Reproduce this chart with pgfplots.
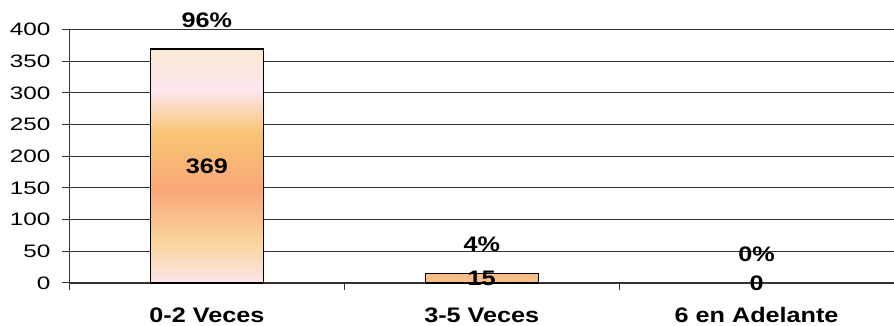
\documentclass[border=0pt]{standalone}
\usepackage{pgfplots}
\pgfplotsset{compat=1.18}
\usepackage{pgfplotstable}
\usepackage{fontspec}
\setmainfont{Liberation Sans}
\newfontfamily\tickfont[FakeStretch=1.35]{Liberation Sans}
\newfontfamily\lblfont[FakeStretch=1.2]{Liberation Sans}

\definecolor{sTop}{HTML}{FBE9D5}
\definecolor{sPink}{HTML}{FCE6EF}
\definecolor{sGold}{HTML}{F8C473}
\definecolor{sOrange}{HTML}{F9A777}
\definecolor{sLgold}{HTML}{F9D59D}
\definecolor{sBot}{HTML}{FBE5EA}
\definecolor{smallBar}{HTML}{F9BD88}

% vertical fill of the bars (path box maps to 25bp..75bp)
\pgfdeclareverticalshading{barfill}{100bp}{%
  color(0bp)=(sBot); color(25bp)=(sBot); color(33.5bp)=(sLgold);
  color(44.85bp)=(sOrange); color(57bp)=(sGold); color(66.3bp)=(sPink);
  color(75bp)=(sTop); color(100bp)=(sTop)}

\pgfplotstableread{
x n pct
0 369 96
1 15 4
2 0 0
}\datos

\begin{document}
\begin{tikzpicture}
\begin{axis}[
  at={(0,0)}, anchor=south west,
  scale only axis,
  width=824.5pt, height=253.5pt,
  xmin=-0.5, xmax=2.5,
  ymin=0, ymax=400,
  ytick={0,50,...,400},
  xtick={-0.5,0.5,1.5},
  xticklabels={,,},
  extra x ticks={0,1,2},
  extra x tick labels={0-2 Veces,3-5 Veces,6 en Adelante},
  extra x tick style={major tick length=0pt},
  major tick length=7pt,
  tick align=outside,
  axis x line*=bottom,
  axis y line*=left,
  axis line style={-, black!80, line width=1pt},
  tick style={black!80, line width=1pt},
  ymajorgrids,
  grid style={black!80, line width=0.9pt},
  clip=false,
  /pgf/number format/assume math mode=true,
  yticklabel style={font=\tickfont\fontsize{18}{21}\selectfont, anchor=east, inner sep=0pt, xshift=-12pt},
  xticklabel style={font=\lblfont\bfseries\fontsize{21}{24}\selectfont, anchor=base, inner sep=0pt, yshift=-40pt},
  every node near coord/.append style={font=\lblfont\bfseries\fontsize{21}{24}\selectfont, anchor=center, inner sep=0pt, black},
  barstyle/.style={ybar, bar width=113pt, bar shift=0pt, line width=1.4pt, line join=miter},
]
% first category: shaded bar
\addplot[barstyle, shading=barfill, postaction={draw=black, line width=1.6pt}]
  table[x=x, y=n, restrict x to domain=0:0] {\datos};
% second category: thin bar, plain fill
\addplot[barstyle, draw=black, fill=smallBar]
  table[x=x, y=n, restrict x to domain=1:1] {\datos};
% counts centred in each bar
\addplot[only marks, mark=none, nodes near coords={\pgfmathprintnumber{\pgfplotspointmeta}},
  point meta=explicit] table[x=x, y expr=\thisrow{n}/2, meta=n] {\datos};
% shares above each bar
\addplot[only marks, mark=none, nodes near coords={\pgfmathprintnumber{\pgfplotspointmeta}\%},
  point meta=explicit] table[x=x, y expr=\thisrow{n}+46, meta=pct] {\datos};
\end{axis}
\pgfresetboundingbox
\path[use as bounding box] (-69.5pt,-43pt) rectangle (824.5pt,283pt);
\end{tikzpicture}
\end{document}
